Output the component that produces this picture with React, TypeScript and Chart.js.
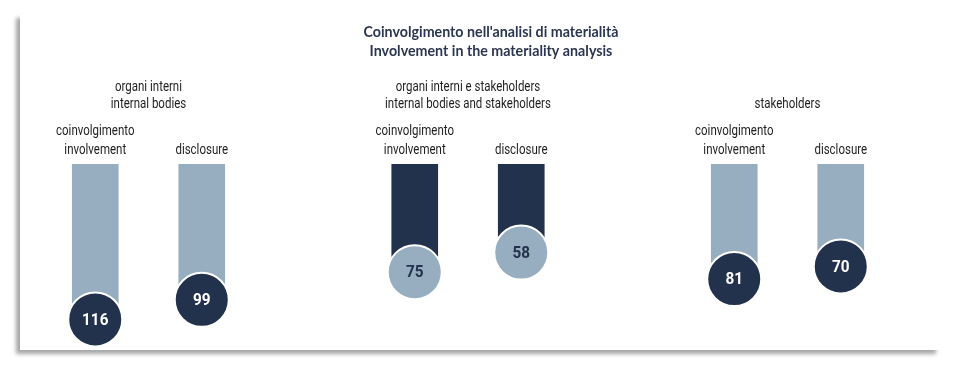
import React, { useEffect, useRef } from 'react';
import { Chart, registerables } from 'chart.js';
Chart.register(...registerables);

const titleLines = ["Coinvolgimento nell'analisi di materialità", 'Involvement in the materiality analysis'];
const groupLabels = [
  ['organi interni', 'internal bodies'],
  ['organi interni e stakeholders', 'internal bodies and stakeholders'],
  ['stakeholders'],
];
const metricLabels = [['coinvolgimento', 'involvement'], ['disclosure']];
const involvement = [116, 75, 81];
const disclosure = [99, 58, 70];
const groupInverted = [false, true, false];

const LIGHT = '#97AEC1';
const DARK = '#22314C';
const TEXT = '#1e1e1e';
const LABEL_FONT = "14px Roboto, 'DejaVu Sans', sans-serif";
const TITLE_FONT = "bold 15px Lato, 'DejaVu Sans', sans-serif";
const VALUE_FONT = "bold 17px Roboto, 'DejaVu Sans', sans-serif";

function narrowText(ctx: CanvasRenderingContext2D, t: string, x: number, y: number, f: number) {
  const w = ctx.measureText(t).width;
  ctx.fillText(t, x, y, w * f);
}

export default function App() {
  const ref = useRef<HTMLCanvasElement | null>(null);
  useEffect(() => {
    if (!ref.current) return;
    const xs: number[] = [];
    const vals: number[] = [];
    const barColors: string[] = [];
    const dotColors: string[] = [];
    const textColors: string[] = [];
    groupLabels.forEach((_, i) => {
      [involvement[i], disclosure[i]].forEach((v, j) => {
        xs.push(i * 3 + j);
        vals.push(v);
        barColors.push(groupInverted[i] ? DARK : LIGHT);
        dotColors.push(groupInverted[i] ? LIGHT : DARK);
        textColors.push(groupInverted[i] ? DARK : '#ffffff');
      });
    });
    const BASE = -19;
    const labelPlugin = {
      id: 'labels',
      afterDatasetsDraw(chart: any) {
        const ctx = chart.ctx;
        const xScale = chart.scales.x;
        const top = chart.chartArea.top;
        ctx.save();
        // title
        ctx.fillStyle = '#2B3650';
        ctx.textAlign = 'center';
        ctx.textBaseline = 'middle';
        ctx.font = TITLE_FONT;
        narrowText(ctx, titleLines[0], 471, 18, 0.95);
        narrowText(ctx, titleLines[1], 471, 37, 0.95);
        // group + metric labels
        ctx.fillStyle = TEXT;
        ctx.font = LABEL_FONT;
        groupLabels.forEach((lines, i) => {
          const cx = (xScale.getPixelForValue(i * 3) + xScale.getPixelForValue(i * 3 + 1)) / 2;
          const n = lines.length;
          lines.forEach((ln, k) => {
            narrowText(ctx, ln, cx, top - 60 - (n - 1 - k) * 17, 0.82);
          });
          metricLabels.forEach((ml, j) => {
            const mx = xScale.getPixelForValue(i * 3 + j);
            const m = ml.length;
            ml.forEach((ln, k) => {
              narrowText(ctx, ln, mx, top - 14 - (m - 1 - k) * 19, 0.82);
            });
          });
        });
        // values
        const meta = chart.getDatasetMeta(1);
        ctx.font = VALUE_FONT;
        meta.data.forEach((pt: any, k: number) => {
          ctx.fillStyle = textColors[k];
          narrowText(ctx, String(vals[k]), pt.x, pt.y + 1, 0.9);
        });
        ctx.restore();
      },
    };
    const chart = new Chart(ref.current, {
      type: 'bar',
      data: {
        datasets: [
          {
            type: 'bar',
            data: xs.map((x, k) => ({ x, y: vals[k] })),
            backgroundColor: barColors,
            base: BASE,
            barThickness: 46,
            order: 2,
            borderWidth: 0,
          } as any,
          {
            type: 'scatter',
            data: xs.map((x, k) => ({ x, y: vals[k] })),
            pointRadius: 27,
            pointHoverRadius: 27,
            pointBackgroundColor: dotColors,
            pointBorderColor: '#ffffff',
            pointBorderWidth: 2,
            order: 1,
            clip: false,
          } as any,
        ],
      },
      options: {
        animation: false,
        responsive: false,
        layout: { autoPadding: false, padding: { left: 22, right: 46, top: 150, bottom: 3 } },
        plugins: { legend: { display: false }, tooltip: { enabled: false }, title: { display: false } },
        scales: {
          x: { type: 'linear', min: -0.5, max: 7.5, display: false, offset: false },
          y: { type: 'linear', min: BASE, max: 140, reverse: true, display: false },
        },
      },
      plugins: [labelPlugin],
    });
    return () => chart.destroy();
  }, []);
  return (
    <div
      style={{
        position: 'absolute',
        left: 20,
        top: 14,
        width: 920,
        height: 336,
        background: '#ffffff',
        boxShadow: '-4px 4px 4px rgba(0,0,0,0.35)',
      }}
    >
      <canvas ref={ref} width={920} height={336} style={{ display: 'block' }} />
    </div>
  );
}
